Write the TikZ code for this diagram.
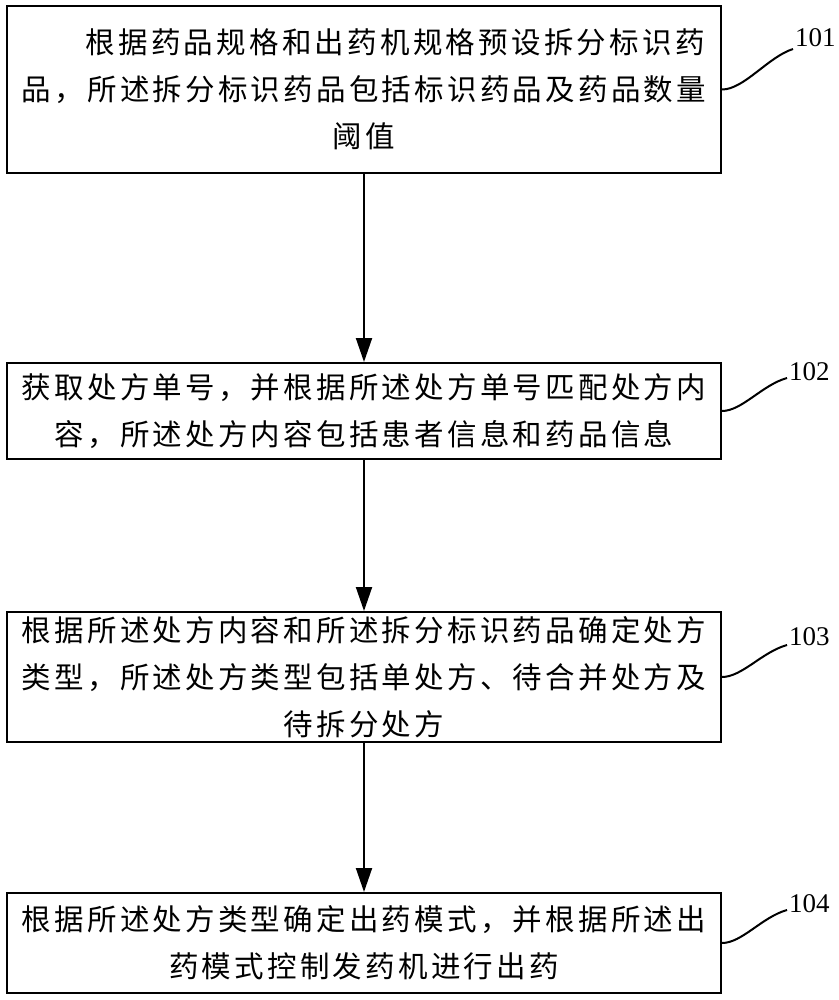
\documentclass[tikz,border=0pt]{standalone}
\usepackage{fontspec}
\newfontfamily\cjk[LetterSpace=11]{Noto Sans CJK SC}
\newfontfamily\numfont{Liberation Serif}
\usetikzlibrary{arrows.meta}
\begin{document}
\begin{tikzpicture}[x=1pt,y=-1pt,
  stepbox/.style={draw,line width=2pt,minimum width=714pt,inner sep=0pt,align=center,
    font=\cjk\fontsize{29.5}{47}\selectfont},
  flow/.style={line width=2pt,-{Triangle[length=24pt,width=16pt]}},
  leader/.style={line width=2pt},
  numlabel/.style={anchor=west,inner sep=0pt,font=\numfont\fontsize{27}{27}\selectfont}]
\useasboundingbox (0,0) rectangle (838,1000);
\node[stepbox,minimum height=167pt] (b1) at (364,89.5)
  {\phantom{品，}根据药品规格和出药机规格预设拆分标识药\\品，所述拆分标识药品包括标识药品及药品数量\\阈值};
\node[stepbox,minimum height=96pt] (b2) at (364,411)
  {获取处方单号，并根据所述处方单号匹配处方内\\容，所述处方内容包括患者信息和药品信息};
\node[stepbox,minimum height=130pt] (b3) at (364,677)
  {根据所述处方内容和所述拆分标识药品确定处方\\类型，所述处方类型包括单处方、待合并处方及\\待拆分处方};
\node[stepbox,minimum height=100pt] (b4) at (364,943)
  {根据所述处方类型确定出药模式，并根据所述出\\药模式控制发药机进行出药};
\draw[flow] (b1) -- (b2);
\draw[flow] (b2) -- (b3);
\draw[flow] (b3) -- (b4);
\node[numlabel] (l1) at (795,38) {101};
\node[numlabel] (l2) at (789,372) {102};
\node[numlabel] (l3) at (789,637) {103};
\node[numlabel] (l4) at (789,904) {104};
\coordinate (e1) at (793,49);
\coordinate (e2) at (787,378);
\coordinate (e3) at (787,645);
\coordinate (e4) at (787,910);
\draw[leader] (b1.east) .. controls +(22,0) and +(-25,8) .. (e1);
\draw[leader] (b2.east) .. controls +(20,0) and +(-25,7) .. (e2);
\draw[leader] (b3.east) .. controls +(20,0) and +(-25,7) .. (e3);
\draw[leader] (b4.east) .. controls +(20,0) and +(-25,7) .. (e4);
\end{tikzpicture}
\end{document}
